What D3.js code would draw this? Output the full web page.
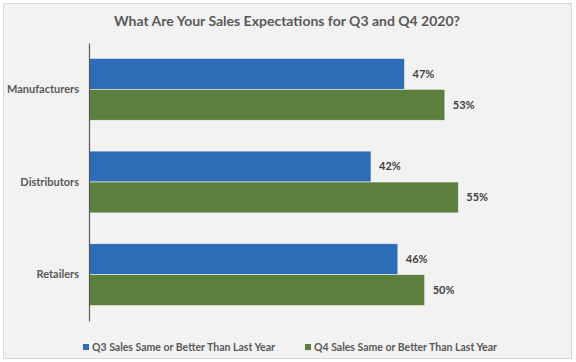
<!DOCTYPE html>
<html>
<head>
<meta charset="utf-8">
<script src="https://cdn.jsdelivr.net/npm/d3@7"></script>
<style>
  body { margin: 0; background: #ffffff; }
  text { font-family: Lato, "Open Sans", sans-serif; }
</style>
</head>
<body>
<svg id="chart" width="576" height="362"></svg>
<script>
// Chart data
const categories = ["Manufacturers", "Distributors", "Retailers"];
const seriesNames = ["Q3 Sales Same or Better Than Last Year", "Q4 Sales Same or Better Than Last Year"];
const q3Values = [47, 42, 46];
const q4Values = [53, 55, 50];
const colors = ["#2d6db7", "#5b7f3c"];

const svg = d3.select("#chart");

// Panel background
svg.append("rect")
    .attr("x", 3.5).attr("y", 3.5)
    .attr("width", 568).attr("height", 355)
    .style("fill", "#f2f2f2")
    .style("stroke", "#d9d9d9");

// Title
svg.append("text")
    .attr("x", 287).attr("y", 26)
    .attr("text-anchor", "middle")
    .style("font-size", "14px")
    .style("font-weight", "bold")
    .style("fill", "#595959")
    .text("What Are Your Sales Expectations for Q3 and Q4 2020?");

// Scales
let scaleX = d3.scaleLinear()
    .domain([0, 70])
    .range([89, 559]);

let scaleY = d3.scaleBand()
    .domain(categories)
    .range([43, 321])
    .paddingInner(0.333)
    .paddingOuter(0.1665);

let scaleSeries = d3.scaleBand()
    .domain([0, 1])
    .range([0, scaleY.bandwidth()]);

// Build rows from arrays
let rows = categories.map((c, i) => ({ cat: c, values: [q3Values[i], q4Values[i]] }));

let groups = svg.append("g")
    .selectAll("g")
    .data(rows)
    .join("g")
    .attr("transform", d => "translate(0," + scaleY(d.cat) + ")");

groups.selectAll("rect")
    .data(d => d.values.map((v, j) => ({ v: v, j: j })))
    .join("rect")
    .attr("x", scaleX(0))
    .attr("y", d => scaleSeries(d.j))
    .attr("width", d => scaleX(d.v) - scaleX(0))
    .attr("height", scaleSeries.bandwidth())
    .style("fill", d => colors[d.j])
    .style("stroke", "#f2f2f2")
    .style("stroke-width", 0.6);

// Value labels
groups.selectAll("text")
    .data(d => d.values.map((v, j) => ({ v: v, j: j })))
    .join("text")
    .attr("x", d => scaleX(d.v) + 8)
    .attr("y", d => scaleSeries(d.j) + scaleSeries.bandwidth() / 2)
    .attr("dy", "0.35em")
    .style("font-size", "11px")
    .style("font-weight", "bold")
    .style("fill", "#404040")
    .text(d => d.v + "%");

// Category axis
let y_axis = d3.axisLeft(scaleY).tickSize(0).tickPadding(10);
let axis = svg.append("g")
    .attr("class", "axis")
    .attr("transform", "translate(89,0)")
    .call(y_axis);

axis.select(".domain").style("stroke", "#595959").style("stroke-width", 1.2);
axis.selectAll("text")
    .style("font-family", "Lato, sans-serif")
    .style("font-size", "11px")
    .style("font-weight", "bold")
    .style("fill", "#595959");

// Legend
let legendX = [83, 305];
let legend = svg.append("g")
    .selectAll("g")
    .data(seriesNames)
    .join("g")
    .attr("transform", (d, i) => "translate(" + legendX[i] + ",347)");

legend.append("rect")
    .attr("x", 0).attr("y", -3)
    .attr("width", 6).attr("height", 6)
    .style("fill", (d, i) => colors[i]);

legend.append("text")
    .attr("x", 9).attr("y", 0)
    .attr("dy", "0.35em")
    .style("font-size", "10.5px")
    .style("font-weight", "bold")
    .style("fill", "#595959")
    .text(d => d);
</script>
</body>
</html>
